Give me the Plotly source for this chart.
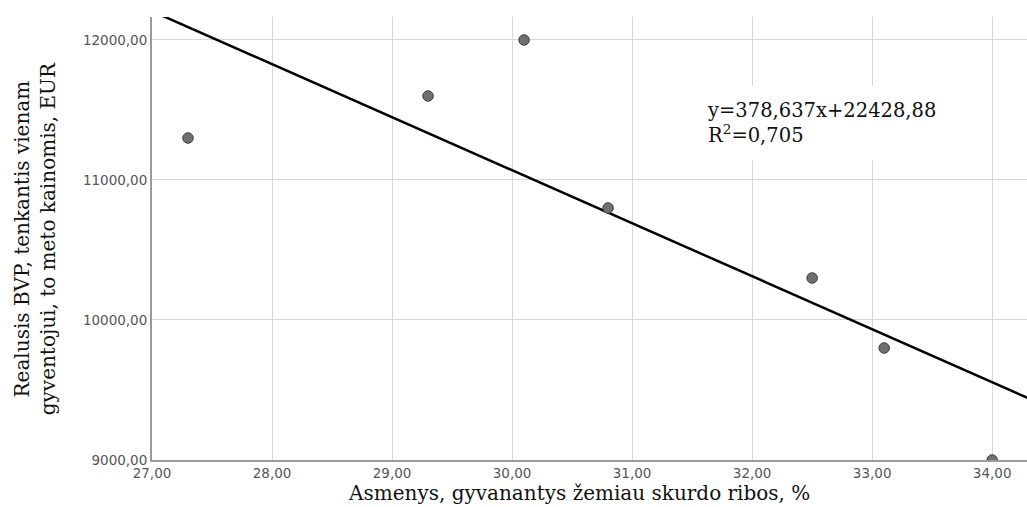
import numpy as np
import plotly.graph_objects as go

# Data
poverty_pct = [27.3, 29.3, 30.1, 30.8, 32.5, 33.1, 34.0]
gdp_per_capita = [11300, 11600, 12000, 10800, 10300, 9800, 9000]

x_ticks = [27, 28, 29, 30, 31, 32, 33, 34]
y_ticks = [9000, 10000, 11000, 12000]
x_tick_labels = ["27,00", "28,00", "29,00", "30,00", "31,00", "32,00", "33,00", "34,00"]
y_tick_labels = ["9000,00", "10000,00", "11000,00", "12000,00"]

equation_text = "y=378,637x+22428,88<br>R<sup>2</sup>=0,705"
x_title = "Asmenys, gyvanantys žemiau skurdo ribos, %"
y_title = "Realusis BVP, tenkantis vienam<br>gyventojui, to meto kainomis, EUR"

x_range = [27, 34.29]
y_range = [9000, 12164]

# Linear fit (least squares)
slope, intercept = np.polyfit(poverty_pct, gdp_per_capita, 1)
fit_x = np.array([26.5, 34.6])
fit_y = slope * fit_x + intercept

fig = go.Figure()
fig.add_trace(go.Scatter(
    x=fit_x, y=fit_y, mode="lines",
    line=dict(color="black", width=2.5),
    showlegend=False, hoverinfo="skip",
))
fig.add_trace(go.Scatter(
    x=poverty_pct, y=gdp_per_capita, mode="markers",
    marker=dict(symbol="circle", size=10.5, color="#6f6f6f",
                line=dict(color="#3c3c3c", width=1)),
    cliponaxis=True, showlegend=False,
))

serif = "DejaVu Serif"
title_font = dict(family=serif, size=20, color="#111")

fig.add_annotation(
    xref="paper", yref="paper", x=0.618, y=0.76,
    xanchor="left", yanchor="middle", align="left",
    text=equation_text, showarrow=False,
    font=dict(family=serif, size=19.5, color="#111"),
    bgcolor="white", borderpad=13,
)
fig.add_annotation(
    xref="paper", yref="paper", x=0.488, y=-0.075,
    xanchor="center", yanchor="middle",
    text=x_title, showarrow=False, font=title_font,
)
fig.add_annotation(
    xref="paper", yref="paper", x=-0.134, y=0.5,
    xanchor="center", yanchor="middle", textangle=-90,
    text=y_title, showarrow=False, font=title_font,
)

tick_font = dict(family="DejaVu Sans", size=13.5, color="#555")

fig.update_layout(
    width=1027, height=507,
    margin=dict(l=152, r=0, t=17, b=47),
    plot_bgcolor="white", paper_bgcolor="white",
    xaxis=dict(
        range=x_range, tickmode="array", tickvals=x_ticks, ticktext=x_tick_labels,
        showgrid=True, gridcolor="#d6d6d6", gridwidth=1,
        showline=True, linecolor="#9a9a9a", linewidth=2,
        zeroline=False, ticks="", tickfont=tick_font,
    ),
    yaxis=dict(
        range=y_range, tickmode="array", tickvals=y_ticks, ticktext=y_tick_labels,
        showgrid=True, gridcolor="#d6d6d6", gridwidth=1,
        showline=True, linecolor="#9a9a9a", linewidth=2,
        zeroline=False, ticks="", tickfont=tick_font,
    ),
)

fig.write_html(
    "out.html",
    config={"displayModeBar": False},
    post_script="document.body.style.margin='0';document.body.style.overflow='hidden';",
)
